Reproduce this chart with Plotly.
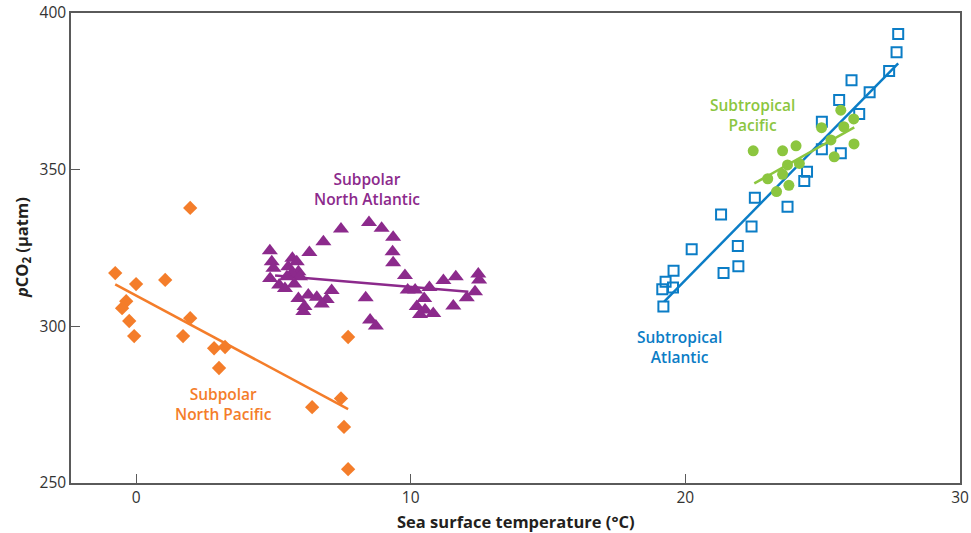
import plotly.graph_objects as go

# ---- data ----
np_sst = [-0.76, 0.0, 1.06, 1.97, -0.36, -0.51, -0.25, -0.07, 1.97, 1.71, 2.84, 3.24, 3.02,
          6.41, 7.46, 7.57, 7.72, 7.72]
np_pco2 = [317.0, 313.5, 314.8, 337.8, 308.0, 305.8, 301.7, 296.9, 302.6, 296.9, 293.0, 293.4,
           286.7, 274.2, 277.0, 267.9, 296.6, 254.4]
np_fit_x = [-0.76, 7.72]
np_fit_y = [313.4, 273.6]

na_sst = [8.48, 8.94, 7.46, 9.36, 6.82, 9.34, 6.31, 4.87, 9.36, 4.94, 5.69, 5.85, 5.54, 5.00,
          5.91, 5.67, 4.88, 5.49, 5.97, 5.21, 5.42, 5.76, 9.79, 11.19, 11.64, 12.46, 12.49,
          9.89, 10.16, 10.68, 12.34, 12.04, 7.12, 6.27, 6.58, 6.94, 5.91, 6.76, 6.13, 6.09,
          8.36, 10.49, 10.22, 10.52, 10.82, 10.34, 11.55, 8.52, 8.73]
na_pco2 = [333.1, 331.3, 331.1, 328.4, 327.0, 323.8, 323.6, 324.1, 320.3, 320.6, 321.7, 320.6,
           319.0, 318.5, 317.4, 316.9, 315.3, 315.8, 315.8, 313.2, 312.1, 313.5, 316.2, 314.6,
           315.8, 316.7, 314.8, 311.6, 311.6, 312.4, 311.0, 309.1, 311.4, 310.0, 309.3, 308.6,
           308.9, 307.1, 306.3, 304.7, 309.1, 308.9, 306.3, 305.2, 304.1, 303.8, 306.5, 302.0,
           300.1]
na_fit_x = [5.06, 12.10]
na_fit_y = [316.2, 311.0]

sa_sst = [27.75, 27.69, 27.42, 26.05, 26.71, 25.60, 26.33, 24.97, 24.97, 25.66, 24.43, 24.33,
          22.53, 23.72, 21.30, 22.41, 20.23, 21.91, 21.93, 21.39, 19.57, 19.28, 19.55, 19.16,
          19.20]
sa_pco2 = [393.3, 387.5, 381.5, 378.5, 374.7, 372.2, 367.8, 365.3, 356.5, 355.2, 349.3, 346.4,
           341.0, 338.2, 335.7, 331.9, 324.6, 325.6, 319.2, 317.0, 317.7, 314.2, 312.4, 311.8,
           306.3]
sa_fit_x = [19.23, 27.75]
sa_fit_y = [307.9, 383.9]

sp_sst = [25.66, 26.13, 25.77, 24.96, 25.30, 26.14, 25.42, 22.47, 23.54, 24.03, 23.72, 24.15,
          23.54, 23.00, 23.77, 23.32]
sp_pco2 = [369.0, 366.2, 363.7, 363.4, 359.5, 358.2, 354.1, 356.0, 356.0, 357.6, 351.5, 352.0,
           348.5, 347.1, 345.0, 343.0]
sp_fit_x = [22.51, 26.15]
sp_fit_y = [345.6, 363.5]

x_ticks = [0, 10, 20, 30]
y_ticks = [250, 300, 350, 400]

ORANGE = "#f47d2a"
PURPLE = "#8c2a8c"
BLUE = "#0b7dc6"
GREEN = "#8cc63f"

fig = go.Figure()

# fit lines first (under markers)
for fx, fy, col in [(np_fit_x, np_fit_y, ORANGE), (na_fit_x, na_fit_y, PURPLE),
                    (sa_fit_x, sa_fit_y, BLUE)]:
    fig.add_trace(go.Scatter(x=fx, y=fy, mode="lines", line=dict(color=col, width=2.5),
                             hoverinfo="skip"))

fig.add_trace(go.Scatter(x=np_sst, y=np_pco2, mode="markers", name="Subpolar North Pacific",
                         marker=dict(symbol="diamond", size=11, color=ORANGE)))
fig.add_trace(go.Scatter(x=na_sst, y=na_pco2, mode="markers", name="Subpolar North Atlantic",
                         marker=dict(symbol="triangle-up", size=14, color=PURPLE)))
fig.add_trace(go.Scatter(x=sa_sst, y=sa_pco2, mode="markers", name="Subtropical Atlantic",
                         marker=dict(symbol="square-open", size=10, color=BLUE,
                                     line=dict(width=2, color=BLUE))))
fig.add_trace(go.Scatter(x=sp_sst, y=sp_pco2, mode="markers", name="Subtropical Pacific",
                         marker=dict(symbol="circle", size=11, color=GREEN)))
fig.add_trace(go.Scatter(x=sp_fit_x, y=sp_fit_y, mode="lines", line=dict(color=GREEN, width=2.5),
                         hoverinfo="skip"))

label_font = dict(family="Open Sans, sans-serif", size=15.5, weight=600)
labels = [
    ("Subpolar<br>North Pacific", 3.17, 275.2, ORANGE),
    ("Subpolar<br>North Atlantic", 8.41, 343.8, PURPLE),
    ("Subtropical<br>Pacific", 22.46, 367.4, GREEN),
    ("Subtropical<br>Atlantic", 19.77, 293.4, BLUE),
]
annotations = []
for txt, x, y, col in labels:
    annotations.append(dict(text=txt, x=x, y=y, xref="x", yref="y", showarrow=False,
                            font=dict(color=col, **label_font), align="center"))

annotations.append(dict(text="<b>Sea surface temperature (°C)</b>", xref="paper", yref="paper",
                        x=0.5006, y=0, yshift=-38, xanchor="center", yanchor="middle",
                        showarrow=False,
                        font=dict(family="Open Sans, sans-serif", size=16.5, color="#231f20")))
annotations.append(dict(text="<b><i>p</i>CO<sub>2</sub> (µatm)</b>", xref="paper", yref="paper",
                        x=-0.0551, y=0.5, xanchor="center", yanchor="middle", textangle=-90,
                        showarrow=False,
                        font=dict(family="Open Sans, sans-serif", size=16.5, color="#231f20")))

axis_common = dict(showgrid=False, zeroline=False, showline=True, mirror=True,
                   linecolor="#5a5a5a", linewidth=1.5, ticks="inside", ticklen=9,
                   tickwidth=1.2, tickcolor="#5a5a5a", automargin=False,
                   tickfont=dict(family="Open Sans, sans-serif", size=15.5, color="#333333"))

fig.update_layout(
    width=971, height=533,
    margin=dict(l=71, r=11, t=13, b=50, autoexpand=False),
    paper_bgcolor="white", plot_bgcolor="white",
    showlegend=False,
    annotations=annotations,
    xaxis=dict(range=[-2.37, 30], tickvals=x_ticks, ticktext=[str(v) for v in x_ticks],
               **axis_common),
    yaxis=dict(range=[250, 400], tickvals=y_ticks, ticktext=[str(v) for v in y_ticks],
               **axis_common),
)

fig.write_html("out.html", config={"displayModeBar": False},
               post_script="document.body.style.margin='0px';document.body.style.overflow='hidden';")
